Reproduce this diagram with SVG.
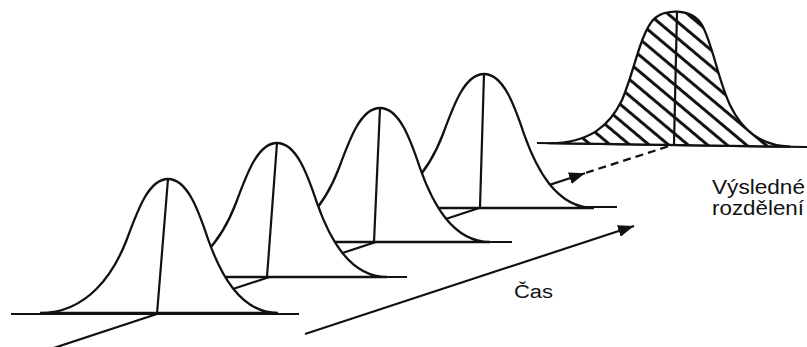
<svg xmlns="http://www.w3.org/2000/svg" width="807" height="347" viewBox="0 0 807 347">
<style>
.ln{stroke:#111;stroke-width:2.2;fill:none}
.bell{fill:#fff;stroke:#111;stroke-width:2.3}
.txt{font-family:"Liberation Sans",Arial,sans-serif;fill:#111}
</style>
<defs>
<path id="bellShape" d="M-128,134 C-80,134 -54,94 -41,60 C-30,30 -19,0 0,0 C19,0 30,30 40,60 C52,94 72,134 110,134 Z"/>
<pattern id="hatch" patternUnits="userSpaceOnUse" width="20" height="12.5" patternTransform="rotate(40)">
<rect width="20" height="12.5" fill="#fff"/>
<line x1="0" y1="6.25" x2="20" y2="6.25" stroke="#111" stroke-width="3"/>
</pattern>
<marker id="arr" markerUnits="userSpaceOnUse" markerWidth="18" markerHeight="14" refX="16" refY="6" orient="auto">
<path d="M0,0 L16,6 L0,12 Z" fill="#111"/>
</marker>
</defs>
<rect width="807" height="347" fill="#fff"/>
<g id="connectors">
<line class="ln" x1="40" y1="352.5" x2="585" y2="173.2" marker-end="url(#arr)"/>
<line class="ln" x1="586" y1="172.8" x2="674" y2="144.5" stroke-dasharray="8 5"/>
<line class="ln" x1="305" y1="334" x2="634" y2="226" marker-end="url(#arr)"/>
</g>
<g id="result">
<line class="ln" x1="537" y1="143" x2="807" y2="147"/>
<path d="M548,143.2 C590,143.6 610,125 622,100 C634,72 640,35 653,20 C664,8 692,8 702,25 C713,45 718,80 730,105 C742,130 760,145.5 790,146.7 Z" fill="url(#hatch)" stroke="#111" stroke-width="2.3"/>
<line class="ln" x1="677" y1="12" x2="674" y2="144.5"/>
</g>
<g id="curve4">
<line class="ln" x1="410" y1="207" x2="617" y2="207"/>
<use href="#bellShape" class="bell" transform="translate(484,74)"/>
<line class="ln" x1="484" y1="74" x2="480" y2="207"/>
</g>
<g id="curve3">
<line class="ln" x1="300" y1="242" x2="512" y2="242"/>
<use href="#bellShape" class="bell" transform="translate(380,108)"/>
<line class="ln" x1="380" y1="108" x2="374" y2="242"/>
</g>
<g id="curve2">
<line class="ln" x1="200" y1="277" x2="407" y2="277"/>
<use href="#bellShape" class="bell" transform="translate(277,143)"/>
<line class="ln" x1="277" y1="143" x2="267" y2="277"/>
</g>
<g id="curve1">
<line class="ln" x1="11" y1="314" x2="299" y2="314"/>
<use href="#bellShape" class="bell" transform="translate(168,179)"/>
<line class="ln" x1="168" y1="179" x2="157" y2="314"/>
</g>
<g id="label-result">
<text class="txt" x="712" y="194" font-size="21" textLength="93" lengthAdjust="spacingAndGlyphs">Výsledné</text>
<text class="txt" x="712" y="215" font-size="21" textLength="92" lengthAdjust="spacingAndGlyphs">rozdělení</text>
</g>
<g id="label-time">
<text class="txt" x="514" y="298" font-size="18" textLength="39" lengthAdjust="spacingAndGlyphs">Čas</text>
</g>
</svg>
